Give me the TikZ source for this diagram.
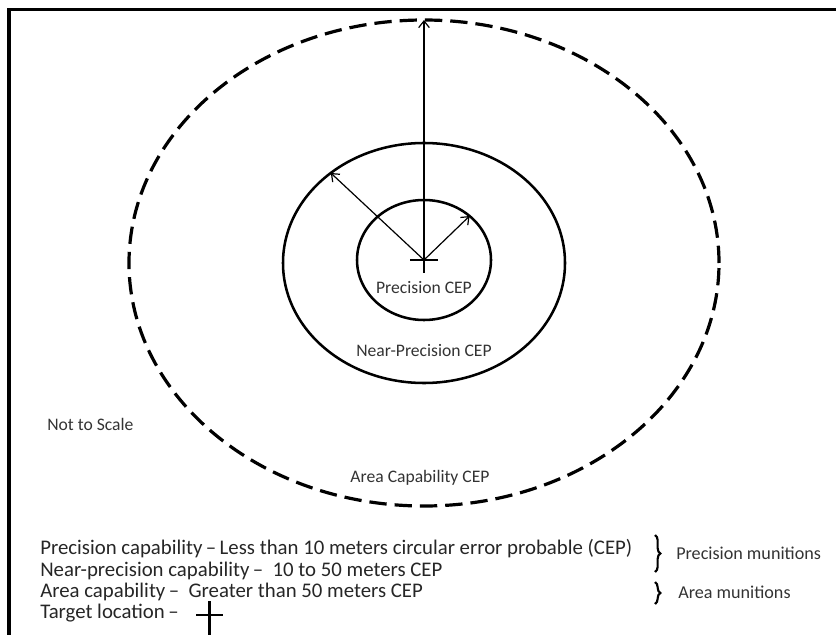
\documentclass[tikz,border=0pt]{standalone}
\usepackage{fontspec}
\setmainfont{Carlito}
\usetikzlibrary{shapes.geometric,arrows.meta,decorations.pathreplacing}
\begin{document}
\begin{tikzpicture}[x=0.75pt,y=-0.75pt,
  ring/.style={draw, ellipse, inner sep=0pt, outer sep=0pt, line width=1.9pt},
  dashring/.style={draw, ellipse, inner sep=0pt, outer sep=0pt, line width=2.4pt, dash pattern=on 13pt off 6pt},
  radius arrow/.style={line width=0.9pt, -{Straight Barb[length=5pt,width=8pt,line width=0.9pt]}},
  lbl/.style={inner sep=0pt, font=\fontsize{13.2pt}{15pt}\selectfont, text=black!80, anchor=base},
  legend/.style={inner sep=0pt, font=\fontsize{15.6pt}{18pt}\selectfont, text=black!85, anchor=base west},
  bracket/.style={line width=1.6pt, decorate, decoration={brace, amplitude=4pt}},
  frameline/.style={line width=2.3pt},
  crossline/.style={line width=2pt}
]
\useasboundingbox (0,0) rectangle (836,635);
% frame
\coordinate (fbl) at (9,645);
\coordinate (ftl) at (9,9.7);
\coordinate (ftr) at (845,9.7);
\draw[frameline] (fbl) -- (ftl) -- (ftr);
% rings
\node[dashring, minimum width=442.5pt, minimum height=364.5pt] (outer) at (424,263) {};
\node[ring, minimum width=211.5pt, minimum height=180pt] (middle) at (424,263) {};
\node[ring, minimum width=100.5pt, minimum height=90pt] (inner) at (424,260) {};
% target cross
\coordinate (target) at (424,260);
\coordinate (tcl) at (410,260);
\coordinate (tcr) at (438,260);
\coordinate (tct) at (424,247);
\coordinate (tcb) at (424,273);
\draw[crossline] (tcl) -- (tcr);
\draw[crossline] (tct) -- (tcb);
% radius arrows
\draw[radius arrow] (target) -- (outer.north);
\draw[radius arrow] (target) -- (middle.136);
\draw[radius arrow] (target) -- (inner.44);
% labels
\node[lbl] (lprec) at (424,293.6) {Precision CEP};
\node[lbl] (lnear) at (424,356) {Near-Precision CEP};
\node[lbl] (larea) at (420,482.6) {Area Capability CEP};
\node[lbl, anchor=base west] (lscale) at (47,430.6) {Not to Scale};
% legend
\node[legend] (leg1) at (40,554) {Precision capability\,–\,Less than 10 meters circular error probable (CEP)};
\node[legend] (leg2) at (40,576) {Near-precision capability\,–\ \ 10 to 50 meters CEP};
\node[legend] (leg3) at (40,597.5) {Area capability\,–\ \ Greater than 50 meters CEP};
\node[legend] (leg4) at (40,618.5) {Target location\,–};
\coordinate (lcl) at (196,615);
\coordinate (lcr) at (223,615);
\coordinate (lct) at (209.5,601);
\coordinate (lcb) at (209.5,640);
\draw[crossline] (lcl) -- (lcr);
\draw[crossline] (lct) -- (lcb);
% braces
\coordinate (b1t) at (655,535);
\coordinate (b1b) at (655,572);
\coordinate (b2t) at (655,582);
\coordinate (b2b) at (655,604);
\draw[bracket] (b1t) -- (b1b);
\draw[bracket] (b2t) -- (b2b);
\node[lbl, anchor=base west, font=\fontsize{13.6pt}{16pt}\selectfont] (pmun) at (676,559) {Precision munitions};
\node[lbl, anchor=base west, font=\fontsize{13.6pt}{16pt}\selectfont] (amun) at (678,598) {Area munitions};
\end{tikzpicture}
\end{document}
